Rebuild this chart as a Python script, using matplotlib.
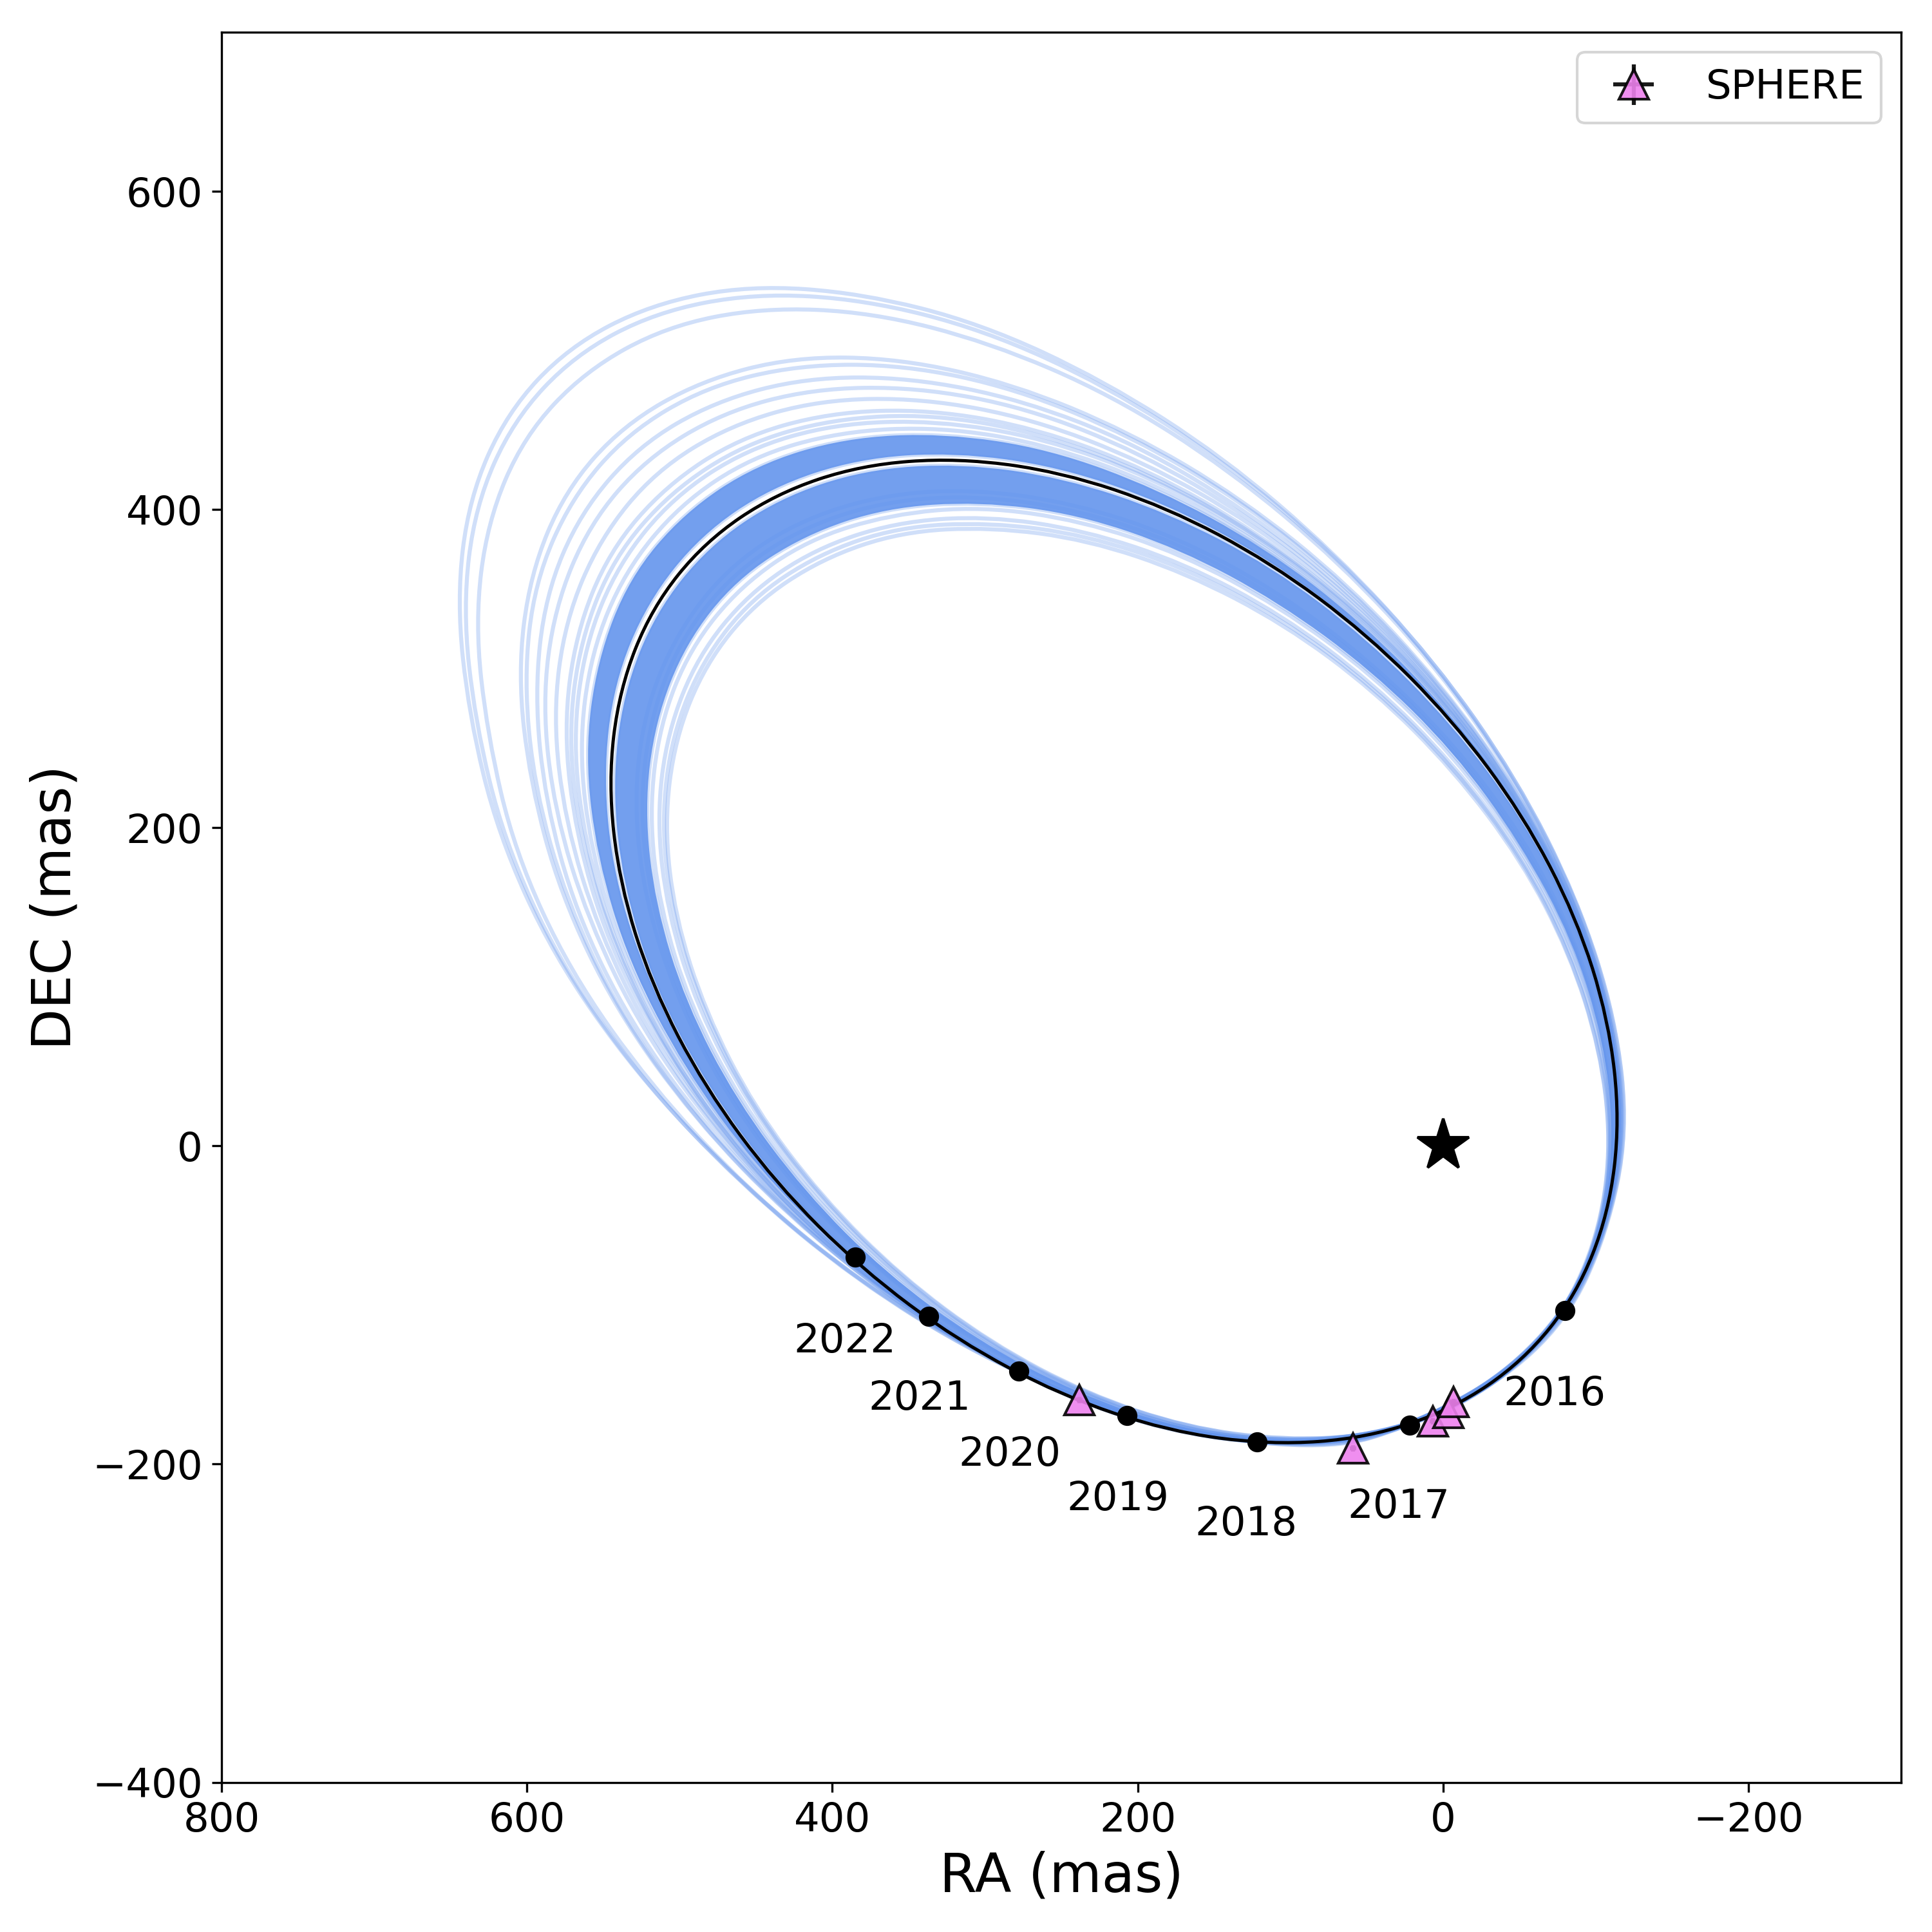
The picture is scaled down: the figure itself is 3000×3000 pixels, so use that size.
"""
Orbit fit plot: sampled orbits, best fit, yearly positions and SPHERE astrometry.
"""
import numpy as np
import matplotlib
matplotlib.use('Agg')
import matplotlib.pyplot as plt
from matplotlib.patches import PathPatch
from matplotlib.path import Path

# best fit orbit (mas), estimated from the figure
best_ra = [546.8, 539.5, 518.3, 483.5, 437.1, 381.2, 317.9, 250.3, 180.7, 113.1, 49.8, -6.1, -52.5, -87.3, -108.5,
           -115.8, -108.5, -87.3, -52.5, -6.1, 49.8, 113.1, 180.7, 250.3, 317.9, 381.2, 437.1, 483.5, 518.3, 539.5]
best_dec = [228.6, 287, 338.2, 379.8, 410, 428, 432.5, 423.7, 401.3, 366.9, 321.7, 267.9, 207.8, 143.8, 79,
            16, -42.5, -93.7, -135.3, -165.6, -183.6, -188, -179.2, -156.8, -122.4, -77.2, -23.4, 36.8, 100.8, 165.6]

# sampled orbits (mas), outermost first, a few extra ones in the crowded parts at the end
orbit_ra = [
    [646, 638, 613, 573, 519, 454, 381, 303, 222, 144, 71, 6, -48, -88, -113, -121, -107, -81, -34, 27, 71, 144, 222, 306, 387, 462, 529, 583, 619, 638],
    [642, 634, 609, 569, 516, 451, 379, 301, 221, 143, 70, 5, -48, -88, -113, -121, -107, -81, -35, 27, 70, 143, 221, 304, 385, 459, 526, 579, 615, 634],
    [634, 626, 602, 562, 509, 446, 374, 297, 217, 140, 68, 4, -48, -88, -112, -120, -107, -81, -35, 25, 68, 140, 217, 300, 380, 454, 519, 572, 608, 626],
    [606, 598, 575, 537, 486, 425, 356, 282, 206, 132, 62, 1, -50, -88, -111, -119, -108, -83, -40, 15, 62, 132, 206, 283, 359, 429, 491, 542, 578, 598],
    [602, 595, 571, 534, 483, 422, 353, 280, 204, 130, 62, 1, -50, -88, -111, -119, -108, -83, -41, 13, 62, 130, 204, 281, 356, 426, 488, 539, 574, 595],
    [595, 588, 565, 527, 477, 417, 349, 276, 201, 128, 60, 0, -50, -88, -111, -118, -108, -83, -42, 13, 60, 128, 201, 277, 352, 421, 482, 532, 568, 588],
    [590, 582, 559, 522, 472, 413, 345, 273, 199, 126, 59, -1, -51, -88, -110, -118, -108, -84, -43, 11, 59, 126, 199, 273, 346, 415, 474, 524, 560, 582],
    [583, 575, 552, 516, 467, 408, 341, 269, 196, 124, 57, -2, -51, -88, -110, -118, -108, -84, -44, 8, 57, 124, 196, 269, 342, 410, 469, 518, 553, 575],
    [576, 568, 546, 509, 461, 402, 336, 266, 193, 122, 56, -3, -51, -88, -110, -117, -108, -85, -45, 6, 56, 122, 193, 266, 337, 404, 463, 511, 547, 568],
    [570, 562, 540, 504, 456, 398, 332, 262, 190, 120, 55, -3, -51, -88, -110, -117, -108, -85, -46, 5, 55, 120, 190, 262, 333, 400, 458, 506, 541, 562],
    [562, 554, 533, 497, 450, 392, 327, 258, 187, 118, 53, -4, -52, -87, -109, -117, -108, -85, -49, 0, 53, 118, 187, 258, 327, 392, 450, 497, 533, 554],
    [550, 543, 521, 486, 440, 383, 320, 252, 182, 114, 50, -6, -52, -87, -109, -116, -109, -87, -52, -6, 50, 114, 182, 252, 320, 383, 440, 486, 521, 543],
    [544, 537, 516, 481, 435, 379, 316, 249, 180, 112, 50, -6, -52, -87, -108, -115, -108, -87, -52, -6, 50, 112, 180, 249, 316, 379, 435, 481, 516, 537],
    [530, 523, 502, 469, 424, 369, 308, 242, 175, 109, 48, -7, -52, -85, -106, -113, -106, -85, -52, -7, 48, 109, 175, 242, 308, 369, 424, 469, 502, 523],
    [523, 516, 496, 463, 418, 365, 304, 239, 172, 108, 47, -7, -51, -85, -105, -112, -105, -85, -51, -7, 47, 108, 172, 239, 304, 365, 418, 463, 496, 516],
    [520, 513, 493, 460, 416, 362, 302, 237, 171, 107, 46, -7, -51, -84, -105, -111, -105, -84, -51, -7, 46, 107, 171, 237, 302, 362, 416, 460, 493, 513],
    [515, 508, 488, 455, 412, 359, 299, 235, 169, 106, 46, -7, -51, -84, -104, -111, -104, -84, -51, -7, 46, 106, 169, 235, 299, 359, 412, 455, 488, 508],
    [510, 503, 483, 451, 407, 355, 296, 233, 168, 104, 45, -7, -51, -83, -103, -110, -103, -83, -51, -7, 45, 104, 168, 233, 296, 355, 407, 451, 483, 503],
    [573, 565, 543, 506, 458, 400, 334, 264, 191, 121, 55, -3, -51, -88, -110, -117, -108, -85, -46, 5, 55, 121, 191, 264, 335, 402, 460, 508, 543, 565],
    [566, 558, 536, 500, 453, 395, 329, 260, 188, 119, 54, -4, -52, -87, -109, -117, -108, -85, -47, 2, 54, 119, 188, 260, 330, 396, 454, 501, 537, 558],
    [526, 519, 499, 466, 421, 367, 306, 240, 173, 108, 47, -7, -51, -85, -105, -112, -105, -85, -51, -7, 47, 108, 173, 240, 306, 367, 421, 466, 499, 519],
    [512, 505, 485, 453, 409, 357, 297, 234, 168, 105, 45, -7, -51, -83, -103, -110, -103, -83, -51, -7, 45, 105, 168, 234, 297, 357, 409, 453, 485, 505],
]
orbit_dec = [
    [343, 407, 461, 502, 529, 541, 536, 517, 481, 433, 373, 305, 231, 155, 80, 8, -56, -110, -151, -178, -190, -185, -166, -130, -82, -22, 46, 120, 196, 271],
    [338, 402, 456, 497, 524, 536, 532, 513, 478, 430, 371, 304, 231, 155, 80, 9, -55, -109, -150, -178, -189, -185, -166, -132, -84, -25, 43, 116, 192, 267],
    [329, 392, 446, 487, 515, 527, 524, 505, 472, 425, 367, 301, 229, 154, 80, 9, -54, -108, -149, -177, -189, -186, -167, -134, -87, -29, 38, 110, 185, 259],
    [297, 359, 412, 453, 481, 496, 495, 479, 449, 407, 353, 290, 222, 151, 79, 11, -50, -103, -145, -173, -187, -186, -171, -141, -98, -44, 18, 86, 158, 229],
    [293, 354, 407, 448, 477, 491, 491, 476, 446, 404, 351, 289, 221, 150, 79, 12, -50, -103, -144, -172, -187, -186, -171, -142, -100, -46, 15, 83, 154, 225],
    [284, 346, 398, 440, 468, 483, 483, 469, 441, 399, 347, 286, 219, 149, 79, 12, -49, -102, -143, -172, -187, -187, -173, -144, -103, -50, 11, 77, 147, 217],
    [278, 338, 391, 432, 461, 476, 477, 464, 436, 395, 344, 284, 218, 149, 79, 13, -48, -101, -142, -171, -186, -187, -173, -146, -105, -54, 6, 72, 142, 211],
    [270, 330, 382, 424, 453, 469, 470, 457, 430, 391, 340, 281, 216, 148, 79, 13, -47, -99, -141, -170, -186, -187, -174, -147, -108, -58, 2, 67, 135, 204],
    [262, 322, 374, 415, 445, 461, 463, 451, 425, 386, 337, 279, 215, 147, 79, 14, -46, -98, -140, -169, -185, -187, -175, -149, -111, -61, -3, 61, 128, 196],
    [255, 315, 366, 408, 438, 454, 456, 445, 420, 382, 334, 277, 213, 146, 79, 14, -46, -97, -139, -169, -185, -187, -176, -151, -113, -65, -8, 56, 123, 190],
    [246, 305, 357, 398, 428, 445, 448, 438, 413, 377, 329, 273, 211, 146, 79, 15, -44, -96, -138, -167, -184, -188, -177, -153, -116, -69, -13, 49, 115, 181],
    [232, 291, 342, 384, 414, 432, 436, 427, 404, 369, 323, 269, 209, 144, 79, 16, -43, -94, -136, -166, -184, -188, -179, -156, -121, -76, -21, 39, 104, 169],
    [226, 284, 335, 377, 407, 425, 429, 420, 398, 364, 319, 265, 206, 142, 77, 15, -43, -94, -136, -166, -183, -188, -179, -157, -122, -78, -24, 36, 99, 164],
    [217, 273, 322, 363, 392, 409, 413, 404, 383, 349, 305, 253, 195, 133, 71, 10, -47, -96, -136, -166, -183, -187, -178, -156, -123, -79, -27, 31, 93, 156],
    [212, 267, 316, 356, 384, 401, 405, 397, 375, 342, 299, 248, 190, 129, 67, 7, -48, -97, -137, -165, -182, -186, -178, -156, -123, -80, -29, 29, 90, 152],
    [209, 265, 313, 352, 381, 397, 402, 393, 372, 339, 296, 245, 188, 127, 66, 6, -49, -98, -137, -165, -182, -186, -178, -156, -123, -80, -29, 28, 88, 150],
    [206, 260, 308, 347, 375, 392, 396, 387, 366, 334, 291, 240, 184, 124, 63, 4, -50, -98, -137, -165, -182, -186, -177, -156, -124, -81, -30, 26, 86, 147],
    [202, 256, 303, 341, 369, 386, 389, 381, 360, 328, 286, 236, 180, 121, 60, 2, -52, -99, -137, -165, -182, -185, -177, -156, -124, -82, -32, 24, 84, 144],
    [258, 318, 370, 411, 441, 457, 460, 448, 422, 384, 335, 278, 214, 146, 79, 14, -46, -97, -139, -169, -185, -187, -175, -150, -112, -63, -5, 58, 125, 193],
    [250, 310, 361, 403, 433, 449, 452, 441, 416, 379, 331, 275, 212, 146, 79, 14, -45, -96, -138, -168, -184, -187, -176, -152, -114, -67, -10, 52, 119, 185],
    [214, 270, 319, 359, 388, 405, 409, 400, 379, 345, 302, 250, 192, 131, 69, 8, -47, -96, -136, -165, -182, -186, -178, -156, -123, -80, -28, 30, 91, 154],
    [204, 258, 305, 344, 372, 389, 392, 384, 363, 331, 288, 238, 182, 122, 61, 3, -51, -98, -137, -165, -182, -185, -177, -156, -124, -81, -31, 25, 85, 145],
]

# dense parts of the orbit bundle, indices into the orbit lists
dense_bands = [(10, 11), (12, 14)]

# yearly positions of the best fit
year_ra = [385, 337, 278, 207, 122, 22, -80]
year_dec = [-70, -107, -141.5, -169.5, -186, -175.6, -103.4]
year_text_ra = [392, 343, 284, 213, 129, 29, -73]
year_text_dec = [-123, -159, -194, -222, -238, -227, -156]
year_labels = ['2022', '2021', '2020', '2019', '2018', '2017', '2016']

# SPHERE astrometry
sphere_ra = [238, 59, 6.7, -3.5, -7]
sphere_dec = [-159.6, -190, -173, -168, -161]
sphere_err = [2, 2, 2, 2, 2]


def loop_path(ra, dec):
    """Closed path that bends smoothly around the read points, using quadratic Bezier segments."""
    pts = np.column_stack([ra, dec])
    mids = (pts + np.roll(pts, -1, axis=0)) / 2
    verts = [mids[-1]]
    codes = [Path.MOVETO]
    for p, m in zip(pts, mids):
        verts += [p, m]
        codes += [Path.CURVE3, Path.CURVE3]
    return Path(verts, codes)


fig, ax = plt.subplots(figsize=(10, 10))
fig.subplots_adjust(left=0.1147, right=0.984, top=0.9833, bottom=0.0775)

for ra, dec in zip(orbit_ra, orbit_dec):
    ax.add_patch(PathPatch(loop_path(ra, dec), fc='none', ec='cornflowerblue', alpha=0.3, lw=1.5))

for outer, inner in dense_bands:
    ring = Path.make_compound_path(loop_path(orbit_ra[outer], orbit_dec[outer]),
                                   loop_path(orbit_ra[inner][::-1], orbit_dec[inner][::-1]))
    ax.add_patch(PathPatch(ring, fc='cornflowerblue', ec='none', alpha=0.9, lw=0))

ax.add_patch(PathPatch(loop_path(best_ra, best_dec), fc='none', ec='k', lw=1.2, zorder=3))
ax.plot(year_ra, year_dec, 'o', color='k', ms=6.5, zorder=4)
for x, y, label in zip(year_text_ra, year_text_dec, year_labels):
    ax.text(x, y, label, fontsize=15, ha='center', va='center')

ax.plot(0, 0, marker='*', color='k', ms=20, ls='none')
ax.errorbar(sphere_ra, sphere_dec, xerr=sphere_err, yerr=sphere_err, fmt='^', color='violet', ecolor='k',
            mec='k', ms=11, alpha=0.9, label='SPHERE', zorder=5)

ax.set_xlim(800, -300)
ax.set_ylim(-400, 700)
ax.set_xlabel('RA (mas)', fontsize=20)
ax.set_ylabel('DEC (mas)', fontsize=20)
ax.tick_params(labelsize=15)
ax.legend(fontsize=15, numpoints=1, loc='upper right')

fig.savefig('out.png', dpi=300)
